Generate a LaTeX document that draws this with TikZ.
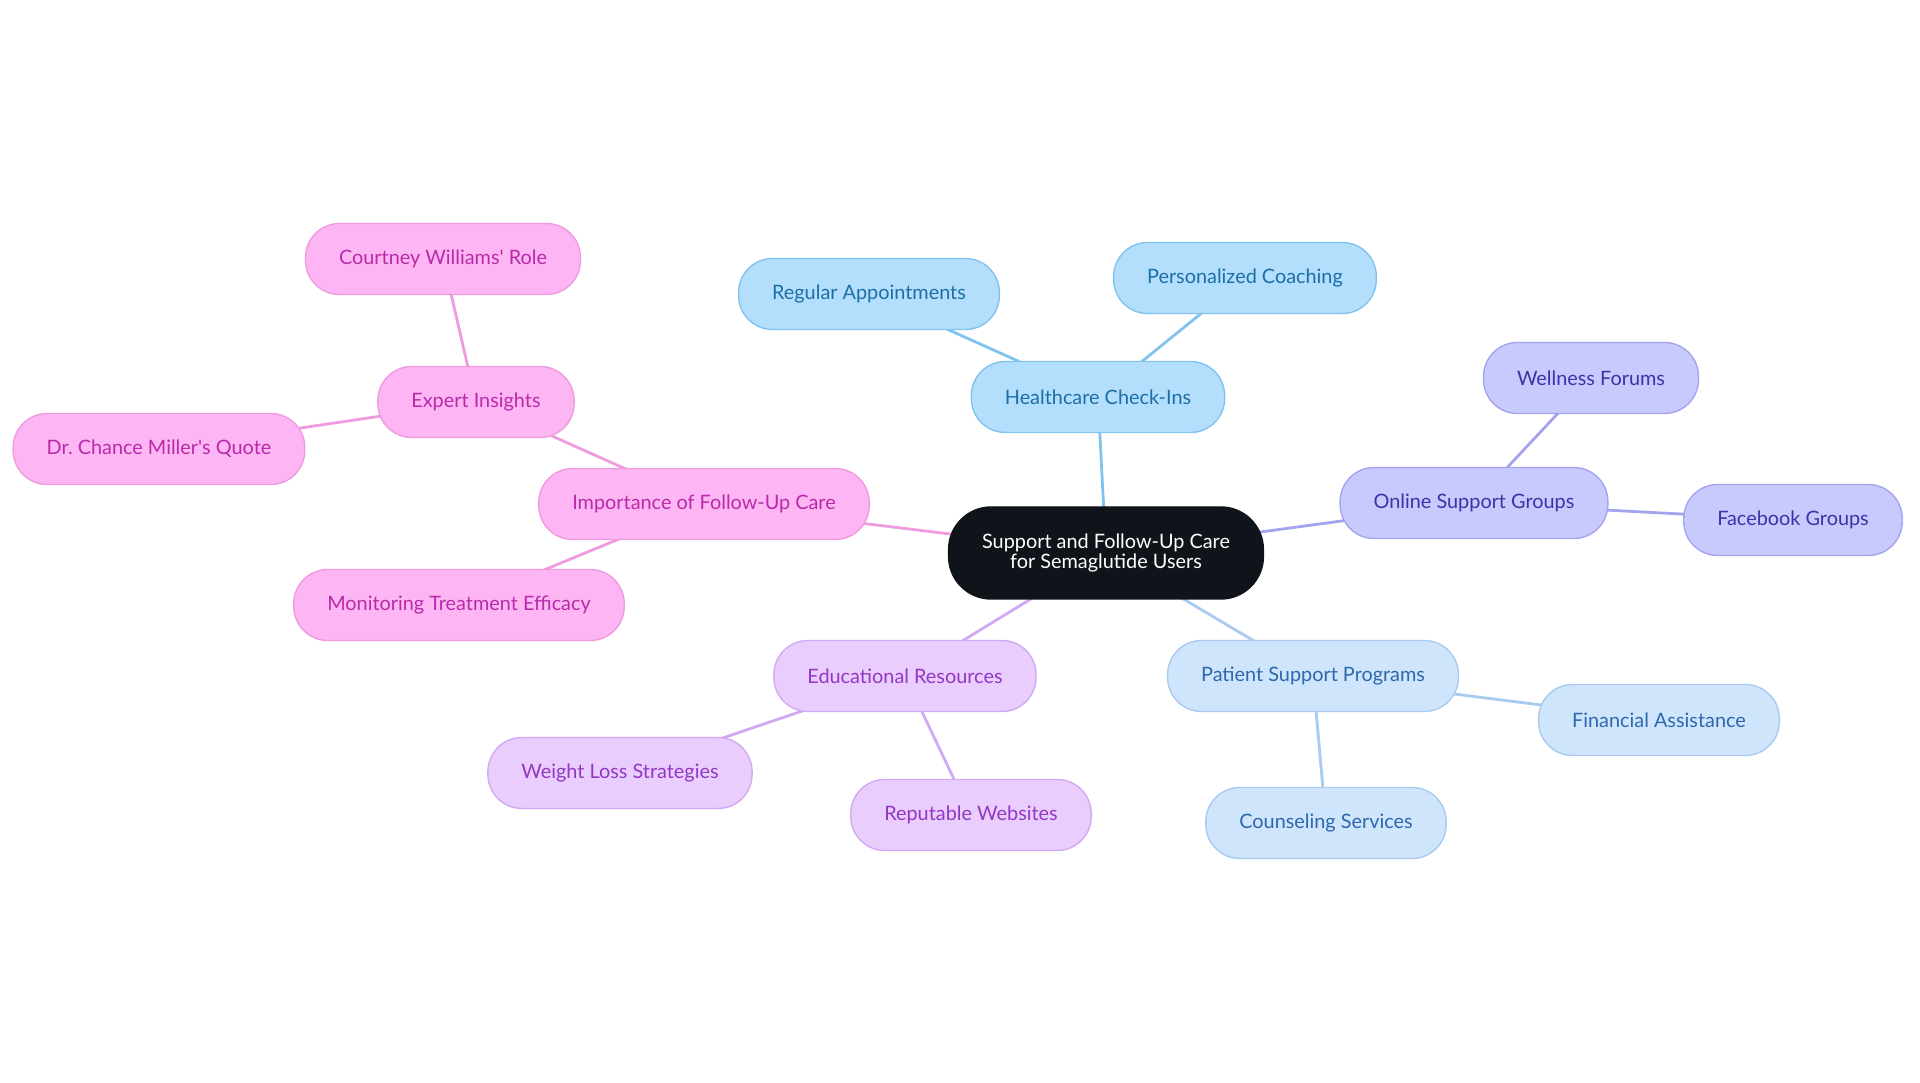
\documentclass[tikz,border=0pt]{standalone}
\usepackage{fontspec}
\setmainfont{Lato}
\usepackage{tikz}
\usetikzlibrary{positioning, backgrounds}
\definecolor{hubfill}{HTML}{0F141A}
\definecolor{pinkfill}{HTML}{FDB6F3}
\definecolor{pinkdraw}{HTML}{EE9BE0}
\definecolor{pinktext}{HTML}{B82AAA}
\definecolor{skyfill}{HTML}{B4DFFC}
\definecolor{skydraw}{HTML}{82C3EE}
\definecolor{skytext}{HTML}{1C6FA6}
\definecolor{lilacfill}{HTML}{C8C9FC}
\definecolor{lilacdraw}{HTML}{A4A4EE}
\definecolor{lilactext}{HTML}{3B34A8}
\definecolor{palefill}{HTML}{CFE5FB}
\definecolor{paledraw}{HTML}{A8CBEF}
\definecolor{paletext}{HTML}{2D68AE}
\definecolor{violetfill}{HTML}{E8CDFD}
\definecolor{violetdraw}{HTML}{D2A9F3}
\definecolor{violettext}{HTML}{9437C4}
\tikzstyle{topic} = [rectangle, rounded corners=0.68cm, minimum height=1.42cm, inner xsep=0.67cm, text centered, line width=0.8pt, font=\fontsize{11.3pt}{11.4pt}\selectfont]
\tikzstyle{hub} = [topic, rounded corners=0.85cm, minimum height=1.84cm, fill=hubfill, draw=hubfill, text=white, align=center]
\tikzstyle{pinkbox} = [topic, fill=pinkfill, draw=pinkdraw, text=pinktext]
\tikzstyle{skybox} = [topic, fill=skyfill, draw=skydraw, text=skytext]
\tikzstyle{lilacbox} = [topic, fill=lilacfill, draw=lilacdraw, text=lilactext]
\tikzstyle{palebox} = [topic, fill=palefill, draw=paledraw, text=paletext]
\tikzstyle{violetbox} = [topic, fill=violetfill, draw=violetdraw, text=violettext]
\tikzstyle{link} = [line width=1.6pt]

\begin{document}
\begin{tikzpicture}[node distance=2cm]
        \useasboundingbox (-22.12,-10.6) rectangle (16.28,11.06);
        \node (hub) [hub] {Support and Follow-Up Care\\for Semaglutide Users};
        \node (checkins) [skybox, above of=hub, xshift=-0.16cm, yshift=1.12cm] {Healthcare Check-Ins};
        \node (appointments) [skybox, above of=checkins, xshift=-4.58cm, yshift=0.06cm] {Regular Appointments};
        \node (coaching) [skybox, above of=checkins, xshift=2.94cm, yshift=0.38cm] {Personalized Coaching};
        \node (online) [lilacbox, right of=hub, xshift=5.36cm, yshift=1.0cm] {Online Support Groups};
        \node (wellness) [lilacbox, above of=online, xshift=2.34cm, yshift=0.5cm] {Wellness Forums};
        \node (facebook) [lilacbox, right of=online, xshift=4.38cm, yshift=-0.34cm] {Facebook Groups};
        \node (patient) [palebox, below of=hub, xshift=4.14cm, yshift=-0.46cm] {Patient Support Programs};
        \node (financial) [palebox, right of=patient, xshift=4.92cm, yshift=-0.88cm] {Financial Assistance};
        \node (counseling) [palebox, below of=patient, xshift=0.26cm, yshift=-0.94cm] {Counseling Services};
        \node (educational) [violetbox, below of=hub, xshift=-4.02cm, yshift=-0.46cm] {Educational Resources};
        \node (weightloss) [violetbox, below of=educational, xshift=-5.70cm, yshift=0.06cm] {Weight Loss Strategies};
        \node (websites) [violetbox, below of=educational, xshift=1.32cm, yshift=-0.78cm] {Reputable Websites};
        \node (followup) [pinkbox, left of=hub, xshift=-6.04cm, yshift=0.98cm] {Importance of Follow-Up Care};
        \node (expert) [pinkbox, above of=followup, xshift=-4.56cm, yshift=0.04cm] {Expert Insights};
        \node (courtney) [pinkbox, above of=expert, xshift=-0.66cm, yshift=0.86cm] {Courtney Williams\textquotesingle\ Role};
        \node (chance) [pinkbox, left of=expert, xshift=-4.34cm, yshift=-0.94cm] {Dr.\ Chance Miller\textquotesingle s Quote};
        \node (monitoring) [pinkbox, below of=followup, xshift=-4.90cm, yshift=-0.02cm] {Monitoring Treatment Efficacy};

        \begin{scope}[on background layer]
        \draw [link, skydraw] (hub.center) -- (checkins.center);
        \draw [link, skydraw] (checkins.center) -- (appointments.center);
        \draw [link, skydraw] (checkins.center) -- (coaching.center);
        \draw [link, lilacdraw] (hub.center) -- (online.center);
        \draw [link, lilacdraw] (online.center) -- (wellness.center);
        \draw [link, lilacdraw] (online.center) -- (facebook.center);
        \draw [link, paledraw] (hub.center) -- (patient.center);
        \draw [link, paledraw] (patient.center) -- (financial.center);
        \draw [link, paledraw] (patient.center) -- (counseling.center);
        \draw [link, violetdraw] (hub.center) -- (educational.center);
        \draw [link, violetdraw] (educational.center) -- (weightloss.center);
        \draw [link, violetdraw] (educational.center) -- (websites.center);
        \draw [link, pinkdraw] (hub.center) -- (followup.center);
        \draw [link, pinkdraw] (followup.center) -- (expert.center);
        \draw [link, pinkdraw] (expert.center) -- (courtney.center);
        \draw [link, pinkdraw] (expert.center) -- (chance.center);
        \draw [link, pinkdraw] (followup.center) -- (monitoring.center);
        \end{scope}

        \end{tikzpicture}
\end{document}
